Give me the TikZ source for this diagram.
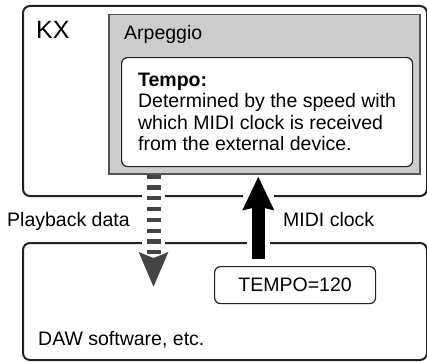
\documentclass[tikz,border=0pt]{standalone}
\usepackage{fontspec}
\setmainfont{Liberation Sans}
\definecolor{KXframe}{HTML}{222222}
\definecolor{ARPgray}{HTML}{CCCCCC}
\definecolor{ARPedge}{HTML}{555555}
\definecolor{PBdark}{HTML}{444444}
\usetikzlibrary{arrows.meta,positioning}

\begin{document}
\begin{tikzpicture}[x=1pt,y=-1pt,>=Stealth,
  every node/.style={font=\fontsize{19.5}{21.5}\selectfont},
  unit/.style={draw=KXframe,line width=2pt,rounded corners=7pt,anchor=north west,inner sep=0pt},
  panel/.style={draw=ARPedge,fill=ARPgray,line width=1.5pt,anchor=north west,inner sep=0pt},
  infobox/.style={draw=KXframe,fill=white,line width=1.2pt,rounded corners=6pt,anchor=north west},
  lbl/.style={anchor=base west,inner sep=0pt},
  gapband/.style={draw=white,line width=23pt},
  pbarrow/.style={draw=PBdark,line width=14pt,dash pattern=on 4.3pt off 6.5pt,
    -{Stealth[length=34pt,width=28pt,inset=5pt]}},
  clockarrow/.style={draw=black,line width=13.5pt,shorten <=7pt,shorten >=2pt,
    -{Stealth[length=33pt,width=30pt,inset=3pt]}}]
  \useasboundingbox (0,0) rectangle (427,361);

  % the two devices
  \node[unit,minimum width=404pt,minimum height=190pt] (kx) at (22,5) {};
  \node[unit,minimum width=404pt,minimum height=117pt] (daw) at (22,242) {};
  \node[lbl,font=\fontsize{25}{25}\selectfont] (kxname) at (36,38) {KX};
  \node[lbl] (dawname) at (38,345) {DAW software, etc.};

  % openings in the frames round the arrows
  \coordinate (pbx) at (153.5,287);
  \coordinate (clkx) at (258.3,0);
  \foreach \x/\w/\a/\b in {153.5/23/180/255, 258.3/23/180/255, 258.3/31/185/205}
    \draw[gapband,line width=\w pt] (\x,\a) -- (\x,\b);

  % arpeggio panel
  \node[panel,minimum width=311pt,minimum height=159pt] (arp) at (108,14) {};
  \node[lbl] (arpname) at (124,39) {Arpeggio};
  \node[infobox,minimum width=291pt,minimum height=109pt,
    inner xsep=14pt,align=left] (info) at (121,57)
    {\textbf{Tempo:}\\Determined by the speed with\\which MIDI clock is received\\from the external device.};

  \node[infobox,minimum width=161pt,minimum height=37pt,inner sep=0pt] (tempo) at (214,266) {TEMPO=120};

  % data flow
  \draw[pbarrow] (arp.south -| pbx) -- (pbx);
  \draw[clockarrow] (tempo.north -| clkx) -- (arp.south -| clkx);
  \node[lbl] (pblabel) at (7,226) {Playback data};
  \node[lbl] (clklabel) at (283,226) {MIDI clock};
\end{tikzpicture}
\end{document}
